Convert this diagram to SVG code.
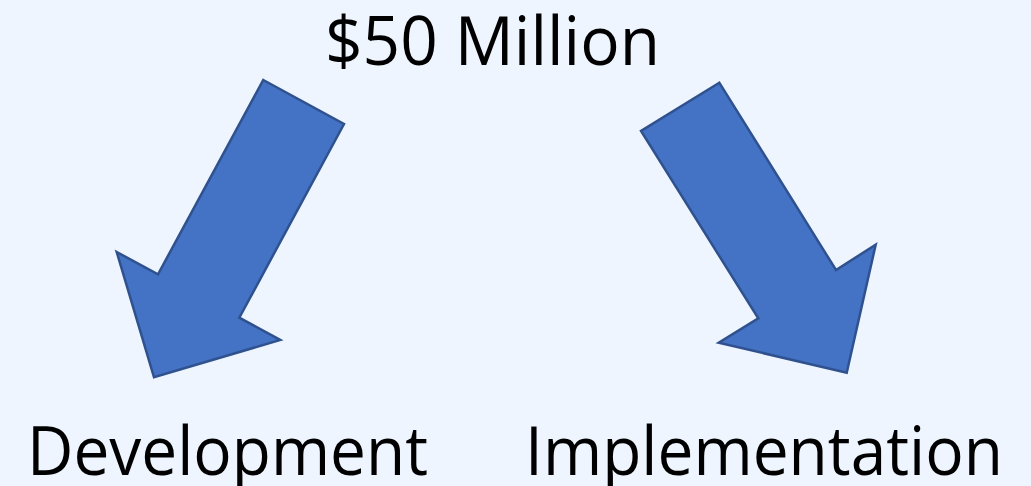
<svg xmlns="http://www.w3.org/2000/svg" width="1031" height="486" viewBox="0 0 1031 486">
  <style>
    .label { font-family: "Open Sans", "Noto Sans", "Liberation Sans", sans-serif; font-size: 67px; fill: #000000; text-anchor: middle; }
    .arrow { fill: #4472C4; stroke: #2F528F; stroke-width: 2.5; stroke-linejoin: miter; }
  </style>
  <rect x="0" y="0" width="1031" height="486" fill="#EEF5FE"/>

  <g id="node-budget">
    <text class="label" x="492.5" y="65" textLength="335" lengthAdjust="spacingAndGlyphs">$50 Million</text>
  </g>
  <g id="node-development">
    <text class="label" x="227.5" y="475" textLength="401" lengthAdjust="spacingAndGlyphs">Development</text>
  </g>
  <g id="node-implementation">
    <text class="label" x="764" y="475" textLength="478" lengthAdjust="spacingAndGlyphs">Implementation</text>
  </g>

  <g id="connectors">
    <polygon class="arrow" points="263.3,80 344,124 239.3,317.7 280.3,340 154,377.3 116.7,252 158,274.3"/>
    <polygon class="arrow" points="719.3,82.7 641,131 758.3,318.3 718.7,342.7 846.7,372.7 875.7,244.7 836,270"/>
  </g>
</svg>
